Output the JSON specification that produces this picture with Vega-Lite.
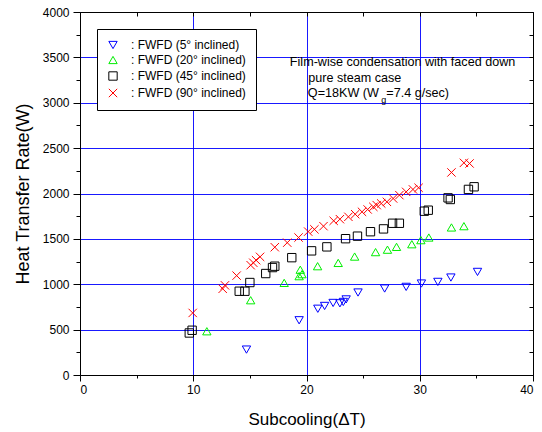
{
 "$schema": "https://vega.github.io/schema/vega-lite/v6.json",
 "width": 453, "height": 363,
 "autosize": {"type": "none"},
 "padding": {"left": 80, "top": 12, "right": 9, "bottom": 57},
 "background": "white",
 "config": {
  "font": "Liberation Sans",
  "view": {"stroke": null},
  "axis": {"domainColor": "black", "tickColor": "black", "labelColor": "black", "titleColor": "black", "labelFont": "Liberation Sans", "titleFont": "Liberation Sans", "titleFontWeight": "normal", "labelFontSize": 12, "titleFontSize": 17}
 },
 "data": {"values": [
  {"series": ": FWFD (5° inclined)", "x": 14.7, "y": 280},
  {"series": ": FWFD (5° inclined)", "x": 19.35, "y": 603},
  {"series": ": FWFD (5° inclined)", "x": 21.0, "y": 730},
  {"series": ": FWFD (5° inclined)", "x": 21.6, "y": 761},
  {"series": ": FWFD (5° inclined)", "x": 22.35, "y": 794},
  {"series": ": FWFD (5° inclined)", "x": 22.95, "y": 790},
  {"series": ": FWFD (5° inclined)", "x": 23.25, "y": 805},
  {"series": ": FWFD (5° inclined)", "x": 23.5, "y": 833},
  {"series": ": FWFD (5° inclined)", "x": 24.55, "y": 909},
  {"series": ": FWFD (5° inclined)", "x": 26.9, "y": 953},
  {"series": ": FWFD (5° inclined)", "x": 28.8, "y": 971},
  {"series": ": FWFD (5° inclined)", "x": 30.15, "y": 1008},
  {"series": ": FWFD (5° inclined)", "x": 31.6, "y": 1026},
  {"series": ": FWFD (5° inclined)", "x": 32.75, "y": 1074},
  {"series": ": FWFD (5° inclined)", "x": 35.1, "y": 1136},
  {"series": ": FWFD (20° inclined)", "x": 11.2, "y": 482},
  {"series": ": FWFD (20° inclined)", "x": 15.07, "y": 824},
  {"series": ": FWFD (20° inclined)", "x": 18.03, "y": 1015},
  {"series": ": FWFD (20° inclined)", "x": 19.35, "y": 1089},
  {"series": ": FWFD (20° inclined)", "x": 19.6, "y": 1111},
  {"series": ": FWFD (20° inclined)", "x": 19.45, "y": 1160},
  {"series": ": FWFD (20° inclined)", "x": 20.98, "y": 1199},
  {"series": ": FWFD (20° inclined)", "x": 22.8, "y": 1235},
  {"series": ": FWFD (20° inclined)", "x": 24.25, "y": 1305},
  {"series": ": FWFD (20° inclined)", "x": 26.1, "y": 1354},
  {"series": ": FWFD (20° inclined)", "x": 27.15, "y": 1381},
  {"series": ": FWFD (20° inclined)", "x": 27.95, "y": 1412},
  {"series": ": FWFD (20° inclined)", "x": 29.3, "y": 1441},
  {"series": ": FWFD (20° inclined)", "x": 30.1, "y": 1486},
  {"series": ": FWFD (20° inclined)", "x": 30.8, "y": 1515},
  {"series": ": FWFD (20° inclined)", "x": 32.8, "y": 1626},
  {"series": ": FWFD (20° inclined)", "x": 33.9, "y": 1640},
  {"series": ": FWFD (45° inclined)", "x": 9.65, "y": 463},
  {"series": ": FWFD (45° inclined)", "x": 9.9, "y": 493},
  {"series": ": FWFD (45° inclined)", "x": 14.06, "y": 923},
  {"series": ": FWFD (45° inclined)", "x": 14.56, "y": 923},
  {"series": ": FWFD (45° inclined)", "x": 15.0, "y": 1019},
  {"series": ": FWFD (45° inclined)", "x": 16.4, "y": 1118},
  {"series": ": FWFD (45° inclined)", "x": 17.0, "y": 1184},
  {"series": ": FWFD (45° inclined)", "x": 17.2, "y": 1199},
  {"series": ": FWFD (45° inclined)", "x": 18.7, "y": 1293},
  {"series": ": FWFD (45° inclined)", "x": 20.45, "y": 1368},
  {"series": ": FWFD (45° inclined)", "x": 21.8, "y": 1412},
  {"series": ": FWFD (45° inclined)", "x": 23.45, "y": 1502},
  {"series": ": FWFD (45° inclined)", "x": 24.5, "y": 1530},
  {"series": ": FWFD (45° inclined)", "x": 25.65, "y": 1579},
  {"series": ": FWFD (45° inclined)", "x": 26.8, "y": 1610},
  {"series": ": FWFD (45° inclined)", "x": 27.6, "y": 1672},
  {"series": ": FWFD (45° inclined)", "x": 28.2, "y": 1672},
  {"series": ": FWFD (45° inclined)", "x": 30.4, "y": 1805},
  {"series": ": FWFD (45° inclined)", "x": 30.75, "y": 1816},
  {"series": ": FWFD (45° inclined)", "x": 32.5, "y": 1952},
  {"series": ": FWFD (45° inclined)", "x": 32.7, "y": 1934},
  {"series": ": FWFD (45° inclined)", "x": 34.3, "y": 2045},
  {"series": ": FWFD (45° inclined)", "x": 34.8, "y": 2074},
  {"series": ": FWFD (90° inclined)", "x": 9.95, "y": 684},
  {"series": ": FWFD (90° inclined)", "x": 12.6, "y": 950},
  {"series": ": FWFD (90° inclined)", "x": 12.8, "y": 988},
  {"series": ": FWFD (90° inclined)", "x": 13.83, "y": 1095},
  {"series": ": FWFD (90° inclined)", "x": 15.07, "y": 1210},
  {"series": ": FWFD (90° inclined)", "x": 15.3, "y": 1237},
  {"series": ": FWFD (90° inclined)", "x": 15.55, "y": 1265},
  {"series": ": FWFD (90° inclined)", "x": 15.9, "y": 1302},
  {"series": ": FWFD (90° inclined)", "x": 17.2, "y": 1408},
  {"series": ": FWFD (90° inclined)", "x": 18.3, "y": 1458},
  {"series": ": FWFD (90° inclined)", "x": 19.3, "y": 1515},
  {"series": ": FWFD (90° inclined)", "x": 20.15, "y": 1580},
  {"series": ": FWFD (90° inclined)", "x": 20.7, "y": 1605},
  {"series": ": FWFD (90° inclined)", "x": 21.5, "y": 1640},
  {"series": ": FWFD (90° inclined)", "x": 22.4, "y": 1699},
  {"series": ": FWFD (90° inclined)", "x": 22.95, "y": 1717},
  {"series": ": FWFD (90° inclined)", "x": 23.7, "y": 1743},
  {"series": ": FWFD (90° inclined)", "x": 24.3, "y": 1772},
  {"series": ": FWFD (90° inclined)", "x": 24.9, "y": 1798},
  {"series": ": FWFD (90° inclined)", "x": 25.4, "y": 1824},
  {"series": ": FWFD (90° inclined)", "x": 25.9, "y": 1853},
  {"series": ": FWFD (90° inclined)", "x": 26.2, "y": 1872},
  {"series": ": FWFD (90° inclined)", "x": 26.6, "y": 1890},
  {"series": ": FWFD (90° inclined)", "x": 27.1, "y": 1908},
  {"series": ": FWFD (90° inclined)", "x": 27.65, "y": 1945},
  {"series": ": FWFD (90° inclined)", "x": 28.2, "y": 1982},
  {"series": ": FWFD (90° inclined)", "x": 28.8, "y": 2018},
  {"series": ": FWFD (90° inclined)", "x": 29.4, "y": 2045},
  {"series": ": FWFD (90° inclined)", "x": 29.9, "y": 2063},
  {"series": ": FWFD (90° inclined)", "x": 32.8, "y": 2232},
  {"series": ": FWFD (90° inclined)", "x": 33.9, "y": 2338},
  {"series": ": FWFD (90° inclined)", "x": 34.4, "y": 2331}
 ]},
 "layer": [
  {
   "mark": {"type": "point", "opacity": 0},
   "encoding": {
    "x": {"field": "x", "type": "quantitative", "axis": {"orient": "bottom", "values": [5, 15, 25, 35], "labels": false, "domain": false, "grid": false, "tickSize": 3, "title": null}},
    "y": {"field": "y", "type": "quantitative", "axis": {"orient": "left", "values": [250, 750, 1250, 1750, 2250, 2750, 3250, 3750], "labels": false, "domain": false, "grid": false, "tickSize": 4, "title": null}}
   }
  },
  {
   "mark": {"type": "point", "opacity": 0},
   "encoding": {
    "x": {"field": "x", "type": "quantitative", "axis": {"orient": "top", "values": [0, 5, 10, 15, 20, 25, 30, 35, 40], "labels": false, "domain": true, "grid": false, "tickSize": -4, "title": null}},
    "y": {"field": "y", "type": "quantitative", "axis": {"orient": "right", "values": [0, 250, 500, 750, 1000, 1250, 1500, 1750, 2000, 2250, 2500, 2750, 3000, 3250, 3500, 3750, 4000], "labels": false, "domain": true, "grid": false, "tickSize": -4, "title": null}}
   }
  },
  {
   "mark": {"type": "point", "filled": false, "strokeWidth": 1, "opacity": 1},
   "encoding": {
    "x": {"field": "x", "type": "quantitative", "scale": {"domain": [0, 40], "nice": false, "zero": false},
          "axis": {"orient": "bottom", "values": [0, 10, 20, 30, 40], "format": "d", "grid": true, "gridColor": "#0000ff", "gridWidth": 1, "gridOpacity": 0.9, "tickSize": 6, "labelPadding": 3, "title": "Subcooling(ΔT)", "titlePadding": 16}},
    "y": {"field": "y", "type": "quantitative", "scale": {"domain": [0, 4000], "nice": false, "zero": false},
          "axis": {"orient": "left", "values": [0, 500, 1000, 1500, 2000, 2500, 3000, 3500, 4000], "format": "d", "grid": true, "gridColor": "#0000ff", "gridWidth": 1, "gridOpacity": 0.9, "tickSize": 7, "labelPadding": 4, "title": "Heat Transfer Rate(W)", "titleFontSize": 18, "titlePadding": 10}},
    "color": {"field": "series", "type": "nominal",
              "scale": {"domain": [": FWFD (5° inclined)", ": FWFD (20° inclined)", ": FWFD (45° inclined)", ": FWFD (90° inclined)"], "range": ["#0000ff", "#00ee00", "#000000", "#ff0000"]},
              "legend": {"orient": "none", "legendX": 17, "legendY": 17, "title": null, "strokeColor": "black", "fillColor": "white", "padding": 10, "labelFontSize": 12, "labelFont": "Liberation Sans", "labelColor": "black", "rowPadding": 3, "labelOffset": 12, "symbolSize": 60, "symbolStrokeWidth": 1}},
    "shape": {"field": "series", "type": "nominal",
              "scale": {"domain": [": FWFD (5° inclined)", ": FWFD (20° inclined)", ": FWFD (45° inclined)", ": FWFD (90° inclined)"], "range": ["triangle-down", "triangle-up", "square", "M-1,-1L1,1M-1,1L1,-1"]},
              "legend": {"orient": "none", "legendX": 17, "legendY": 17, "title": null, "strokeColor": "black", "fillColor": "white", "padding": 10, "labelFontSize": 12, "labelFont": "Liberation Sans", "labelColor": "black", "rowPadding": 3, "labelOffset": 12, "symbolSize": 60, "symbolStrokeWidth": 1}},
    "size": {"field": "series", "type": "nominal",
             "scale": {"domain": [": FWFD (5° inclined)", ": FWFD (20° inclined)", ": FWFD (45° inclined)", ": FWFD (90° inclined)"], "range": [70, 70, 45, 55]},
             "legend": null}
   }
  },
  {
   "data": {"values": [{}]},
   "mark": {"type": "text", "align": "left", "baseline": "middle", "fontSize": 12.6, "font": "Liberation Sans", "color": "black", "text": "Film-wise condensation with faced down"},
   "encoding": {"x": {"datum": 18.53, "type": "quantitative", "axis": null}, "y": {"datum": 3452, "type": "quantitative", "axis": null}}
  },
  {
   "data": {"values": [{}]},
   "mark": {"type": "text", "align": "left", "baseline": "middle", "fontSize": 12.6, "font": "Liberation Sans", "color": "black", "text": "pure steam case"},
   "encoding": {"x": {"datum": 20.15, "type": "quantitative", "axis": null}, "y": {"datum": 3272, "type": "quantitative", "axis": null}}
  },
  {
   "data": {"values": [{}]},
   "mark": {"type": "text", "align": "left", "baseline": "middle", "fontSize": 12.6, "font": "Liberation Sans", "color": "black", "text": "Q=18KW  (W"},
   "encoding": {"x": {"datum": 20.12, "type": "quantitative", "axis": null}, "y": {"datum": 3104, "type": "quantitative", "axis": null}}
  },
  {
   "data": {"values": [{}]},
   "mark": {"type": "text", "align": "left", "baseline": "middle", "fontSize": 9, "font": "Liberation Sans", "color": "black", "text": "g"},
   "encoding": {"x": {"datum": 26.6, "type": "quantitative", "axis": null}, "y": {"datum": 3025, "type": "quantitative", "axis": null}}
  },
  {
   "data": {"values": [{}]},
   "mark": {"type": "text", "align": "left", "baseline": "middle", "fontSize": 12.6, "font": "Liberation Sans", "color": "black", "text": "=7.4 g/sec)"},
   "encoding": {"x": {"datum": 27.05, "type": "quantitative", "axis": null}, "y": {"datum": 3104, "type": "quantitative", "axis": null}}
  }
 ],
 "resolve": {"axis": {"x": "independent", "y": "independent"}}
}
